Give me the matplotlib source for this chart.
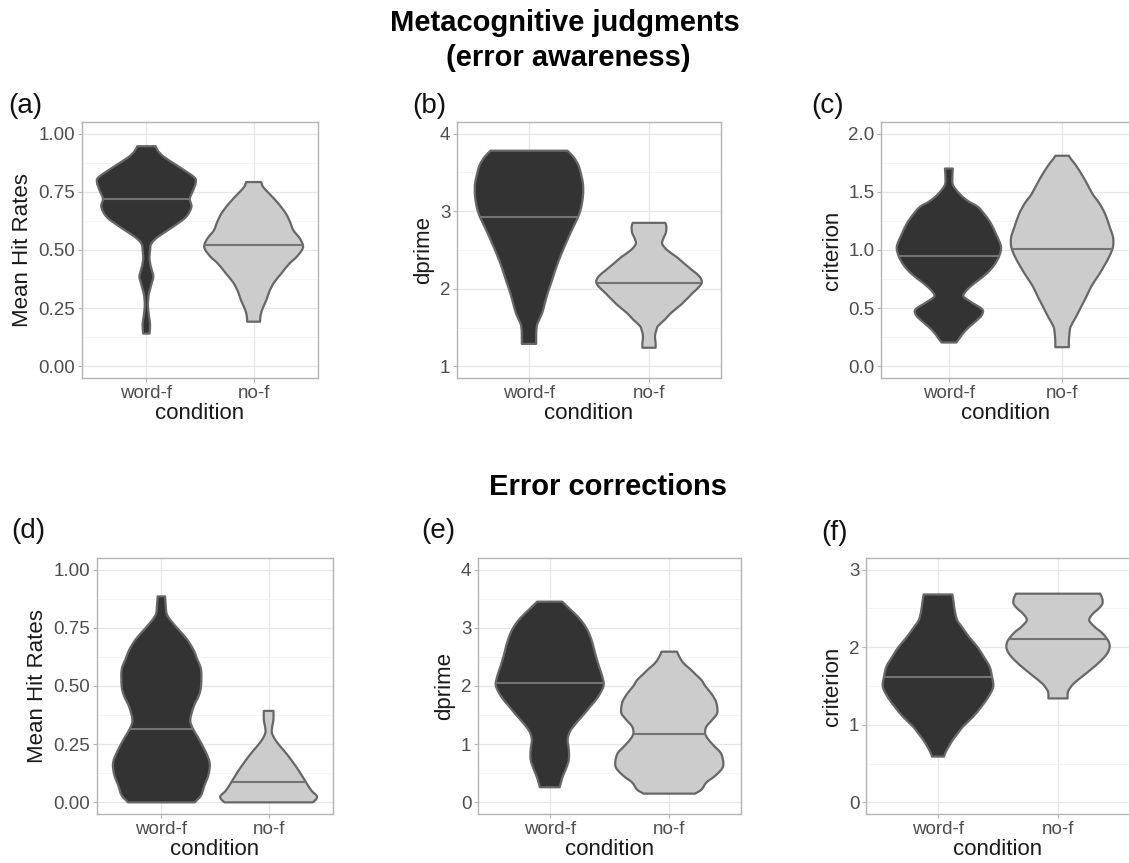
import numpy as np
import matplotlib
matplotlib.use('Agg')
import matplotlib.pyplot as plt
from matplotlib.ticker import FixedLocator, FixedFormatter
from matplotlib.path import Path
from matplotlib.patches import PathPatch

plt.rcParams['font.family'] = ['Liberation Sans', 'DejaVu Sans']

W, H = 1129, 863
conditions = ['word-f', 'no-f']

# ---- violin outlines: y value and half-width (x units) ----
# (a) Mean Hit Rates, error awareness
a_word_y = [0.141, 0.18, 0.215, 0.258, 0.29, 0.314, 0.357, 0.386, 0.415, 0.457, 0.50, 0.528, 0.557,
            0.60, 0.642, 0.685, 0.72, 0.756, 0.79, 0.813, 0.856, 0.898, 0.925, 0.946]
a_word_w = [0.03, 0.035, 0.025, 0.015, 0.018, 0.025, 0.05, 0.065, 0.05, 0.03, 0.035, 0.047, 0.11,
            0.25, 0.37, 0.42, 0.405, 0.436, 0.46, 0.445, 0.31, 0.17, 0.11, 0.085]
a_nof_y = [0.192, 0.22, 0.25, 0.286, 0.32, 0.36, 0.40, 0.44, 0.47, 0.50, 0.52, 0.55, 0.585,
           0.62, 0.657, 0.70, 0.74, 0.77, 0.792]
a_nof_w = [0.06, 0.065, 0.085, 0.12, 0.145, 0.19, 0.26, 0.33, 0.40, 0.45, 0.46, 0.43, 0.37,
           0.34, 0.30, 0.23, 0.15, 0.09, 0.07]
a_median = [0.72, 0.52]

# (b) dprime, error awareness
b_word_y = [1.29, 1.40, 1.52, 1.60, 1.69, 1.80, 1.94, 2.10, 2.29, 2.45, 2.63, 2.80, 2.93,
            3.05, 3.20, 3.35, 3.50, 3.60, 3.70, 3.78]
b_word_w = [0.06, 0.06, 0.065, 0.085, 0.11, 0.13, 0.155, 0.19, 0.23, 0.27, 0.32, 0.37, 0.41,
            0.435, 0.45, 0.45, 0.43, 0.41, 0.37, 0.32]
b_nof_y = [1.24, 1.30, 1.39, 1.46, 1.52, 1.60, 1.69, 1.80, 1.94, 2.03, 2.09, 2.16, 2.24,
           2.33, 2.41, 2.50, 2.58, 2.65, 2.72, 2.80, 2.85]
b_nof_w = [0.055, 0.055, 0.05, 0.06, 0.075, 0.13, 0.185, 0.27, 0.36, 0.42, 0.44, 0.42, 0.36,
           0.29, 0.23, 0.15, 0.11, 0.12, 0.14, 0.145, 0.135]
b_median = [2.93, 2.08]

# (c) criterion, error awareness
c_word_y = [0.205, 0.25, 0.29, 0.34, 0.39, 0.44, 0.49, 0.55, 0.60, 0.64, 0.69, 0.74, 0.80,
            0.87, 0.95, 1.03, 1.13, 1.23, 1.30, 1.37, 1.42, 1.48, 1.55, 1.60, 1.70]
c_word_w = [0.065, 0.10, 0.13, 0.18, 0.24, 0.29, 0.295, 0.20, 0.13, 0.145, 0.195, 0.26, 0.336,
            0.40, 0.445, 0.46, 0.42, 0.37, 0.32, 0.257, 0.17, 0.097, 0.04, 0.03, 0.035]
c_nof_y = [0.165, 0.22, 0.28, 0.34, 0.42, 0.515, 0.60, 0.69, 0.78, 0.86, 0.95, 1.03, 1.11,
           1.20, 1.31, 1.40, 1.48, 1.57, 1.655, 1.73, 1.78, 1.81]
c_nof_w = [0.06, 0.06, 0.065, 0.075, 0.12, 0.17, 0.215, 0.26, 0.32, 0.37, 0.42, 0.45, 0.45,
           0.42, 0.38, 0.33, 0.27, 0.22, 0.17, 0.12, 0.08, 0.06]
c_median = [0.95, 1.01]

# (d) Mean Hit Rates, error corrections
d_word_y = [0.0, 0.03, 0.07, 0.12, 0.17, 0.22, 0.28, 0.32, 0.355, 0.41, 0.46, 0.50, 0.57,
            0.62, 0.655, 0.70, 0.74, 0.78, 0.81, 0.85, 0.885]
d_word_w = [0.31, 0.37, 0.40, 0.44, 0.45, 0.41, 0.34, 0.29, 0.27, 0.30, 0.35, 0.37, 0.37,
            0.33, 0.30, 0.24, 0.165, 0.09, 0.05, 0.04, 0.035]
d_nof_y = [0.0, 0.012, 0.027, 0.05, 0.085, 0.13, 0.17, 0.21, 0.24, 0.27, 0.30, 0.33, 0.355, 0.393]
d_nof_w = [0.41, 0.44, 0.45, 0.40, 0.35, 0.29, 0.23, 0.165, 0.11, 0.06, 0.03, 0.035, 0.045, 0.045]
d_median = [0.316, 0.088]

# (e) dprime, error corrections
e_word_y = [0.26, 0.35, 0.45, 0.60, 0.74, 0.90, 1.08, 1.22, 1.36, 1.50, 1.65, 1.80, 2.00,
            2.16, 2.35, 2.56, 2.72, 2.90, 3.05, 3.18, 3.30, 3.40, 3.45]
e_word_w = [0.083, 0.095, 0.11, 0.14, 0.16, 0.16, 0.15, 0.17, 0.22, 0.28, 0.34, 0.40, 0.45,
            0.44, 0.41, 0.38, 0.36, 0.33, 0.29, 0.24, 0.18, 0.13, 0.105]
e_nof_y = [0.15, 0.22, 0.34, 0.45, 0.55, 0.62, 0.72, 0.85, 0.98, 1.10, 1.19, 1.30, 1.42,
           1.53, 1.65, 1.76, 1.90, 2.00, 2.10, 2.20, 2.30, 2.38, 2.48, 2.59]
e_nof_w = [0.215, 0.27, 0.31, 0.38, 0.43, 0.45, 0.45, 0.43, 0.37, 0.32, 0.30, 0.31, 0.36,
           0.40, 0.40, 0.385, 0.34, 0.30, 0.27, 0.22, 0.17, 0.125, 0.09, 0.065]
e_median = [2.05, 1.17]

# (f) criterion, error corrections
f_word_y = [0.59, 0.65, 0.72, 0.81, 0.90, 0.98, 1.10, 1.23, 1.36, 1.49, 1.62, 1.75, 1.88,
            2.00, 2.13, 2.26, 2.35, 2.47, 2.58, 2.68]
f_word_w = [0.05, 0.065, 0.09, 0.125, 0.17, 0.21, 0.29, 0.36, 0.42, 0.46, 0.45, 0.43, 0.38,
            0.33, 0.26, 0.20, 0.16, 0.14, 0.13, 0.12]
f_nof_y = [1.34, 1.40, 1.45, 1.53, 1.62, 1.72, 1.83, 1.92, 2.00, 2.08, 2.18, 2.27, 2.35,
           2.43, 2.50, 2.56, 2.62, 2.66, 2.69]
f_nof_w = [0.08, 0.08, 0.09, 0.13, 0.20, 0.28, 0.36, 0.41, 0.43, 0.42, 0.37, 0.30, 0.26,
           0.29, 0.34, 0.37, 0.37, 0.36, 0.35]
f_median = [1.61, 2.10]

# y axes
hit_ticks = [0.0, 0.25, 0.5, 0.75, 1.0]
hit_labels = ['0.00', '0.25', '0.50', '0.75', '1.00']
dp_ticks_top = [1, 2, 3, 4]
dp_ticks_bot = [0, 1, 2, 3, 4]
crit_ticks_top = [0.0, 0.5, 1.0, 1.5, 2.0]
crit_labels_top = ['0.0', '0.5', '1.0', '1.5', '2.0']
crit_ticks_bot = [0, 1, 2, 3]

titles_top = ['Metacognitive judgments', '(error awareness)']
title_bottom = 'Error corrections'

DARK = '#333333'
LIGHT = '#cccccc'
EDGE = '#676767'
MED = '#737373'
GRID = '#e6e6e6'
GRIDMIN = '#f2f2f2'
BORDER = '#b3b3b3'
TICKTXT = '#4d4d4d'

fig = plt.figure(figsize=(W / 100, H / 100), dpi=100)
fig.patch.set_facecolor('white')


def add_ax(left, top, width, height):
    return fig.add_axes([left / W, 1 - (top + height) / H, width / W, height / H])


def smooth_side(pts):
    """Bezier (Catmull-Rom) segments through the given outline points."""
    verts, codes = [], []
    n = len(pts)
    for i in range(n - 1):
        p0 = pts[max(i - 1, 0)]
        p1 = pts[i]
        p2 = pts[i + 1]
        p3 = pts[min(i + 2, n - 1)]
        c1 = p1 + (p2 - p0) / 6.0
        c2 = p2 - (p3 - p1) / 6.0
        verts += [c1, c2, p2]
        codes += [Path.CURVE4] * 3
    return verts, codes


def violin_path(pos, yy, ww):
    right = np.column_stack([pos + ww, yy])
    left = np.column_stack([pos - ww, yy])[::-1]
    verts = [right[0]]
    codes = [Path.MOVETO]
    v, c = smooth_side(right)
    verts += v
    codes += c
    verts.append(left[0])
    codes.append(Path.LINETO)
    v, c = smooth_side(left)
    verts += v
    codes += c
    verts.append(right[0])
    codes.append(Path.CLOSEPOLY)
    return Path(np.array(verts), codes)


def draw_panel(ax, profiles, medians, ylim, yticks, ylabels, ylabel, minor):
    for pos, (yy, ww), fc, med in zip([1, 2], profiles, [DARK, LIGHT], medians):
        yy = np.asarray(yy, float)
        ww = np.asarray(ww, float)
        patch = PathPatch(violin_path(pos, yy, ww), facecolor=fc, edgecolor=EDGE,
                          linewidth=1.6, joinstyle='round', zorder=3)
        ax.add_patch(patch)
        hm = np.interp(med, yy, ww)
        ax.plot([pos - hm, pos + hm], [med, med], color=MED, lw=1.5,
                solid_capstyle='butt', zorder=4)
    ax.set_xlim(0.4, 2.6)
    ax.set_ylim(*ylim)
    ax.xaxis.set_major_locator(FixedLocator([1, 2]))
    ax.xaxis.set_major_formatter(FixedFormatter(conditions))
    ax.yaxis.set_major_locator(FixedLocator(yticks))
    ax.yaxis.set_major_formatter(FixedFormatter(ylabels))
    ax.yaxis.set_minor_locator(FixedLocator(minor))
    ax.grid(which='major', color=GRID, lw=0.9, zorder=0)
    ax.grid(which='minor', axis='y', color=GRIDMIN, lw=0.6, zorder=0)
    ax.set_axisbelow(True)
    for s in ax.spines.values():
        s.set_color(BORDER)
        s.set_linewidth(1.0)
    ax.tick_params(which='major', length=2.8, width=0.8, color=BORDER, pad=2,
                   labelsize=13.5, labelcolor=TICKTXT)
    ax.tick_params(which='minor', length=0)
    ax.set_xlabel('condition', fontsize=16, color='#1a1a1a', labelpad=1)
    ax.set_ylabel(ylabel, fontsize=16, color='#1a1a1a', labelpad=4)


ax_a = add_ax(82, 122, 236, 256)
draw_panel(ax_a, [(a_word_y, a_word_w), (a_nof_y, a_nof_w)], a_median, (-0.05, 1.05),
           hit_ticks, hit_labels, 'Mean Hit Rates', [0.125, 0.375, 0.625, 0.875])
ax_b = add_ax(457, 122, 264, 256)
draw_panel(ax_b, [(b_word_y, b_word_w), (b_nof_y, b_nof_w)], b_median, (0.85, 4.15),
           dp_ticks_top, [str(t) for t in dp_ticks_top], 'dprime', [1.5, 2.5, 3.5])
ax_c = add_ax(881, 122, 249, 256)
draw_panel(ax_c, [(c_word_y, c_word_w), (c_nof_y, c_nof_w)], c_median, (-0.1, 2.1),
           crit_ticks_top, crit_labels_top, 'criterion', [0.25, 0.75, 1.25, 1.75])
ax_d = add_ax(97, 558, 236, 256)
draw_panel(ax_d, [(d_word_y, d_word_w), (d_nof_y, d_nof_w)], d_median, (-0.05, 1.05),
           hit_ticks, hit_labels, 'Mean Hit Rates', [0.125, 0.375, 0.625, 0.875])
ax_e = add_ax(478, 558, 263, 256)
draw_panel(ax_e, [(e_word_y, e_word_w), (e_nof_y, e_nof_w)], e_median, (-0.2, 4.2),
           dp_ticks_bot, [str(t) for t in dp_ticks_bot], 'dprime', [0.5, 1.5, 2.5, 3.5])
ax_f = add_ax(866, 558, 264, 256)
draw_panel(ax_f, [(f_word_y, f_word_w), (f_nof_y, f_nof_w)], f_median, (-0.15, 3.15),
           crit_ticks_bot, [str(t) for t in crit_ticks_bot], 'criterion', [0.5, 1.5, 2.5])


def ftext(x, y, s, **kw):
    fig.text(x / W, 1 - y / H, s, **kw)


ftext(565, 23, titles_top[0], ha='center', va='center', fontsize=21, fontweight='bold')
ftext(568, 58, titles_top[1], ha='center', va='center', fontsize=21, fontweight='bold')
ftext(608, 487, title_bottom, ha='center', va='center', fontsize=21, fontweight='bold')

for lab, x, y in [('(a)', 8, 106), ('(b)', 412, 106), ('(c)', 811, 106),
                  ('(d)', 11, 531), ('(e)', 421, 531), ('(f)', 821, 533)]:
    ftext(x, y, lab, ha='left', va='center', fontsize=20, color='#111111')

fig.savefig('out.png', dpi=100, facecolor='white')
